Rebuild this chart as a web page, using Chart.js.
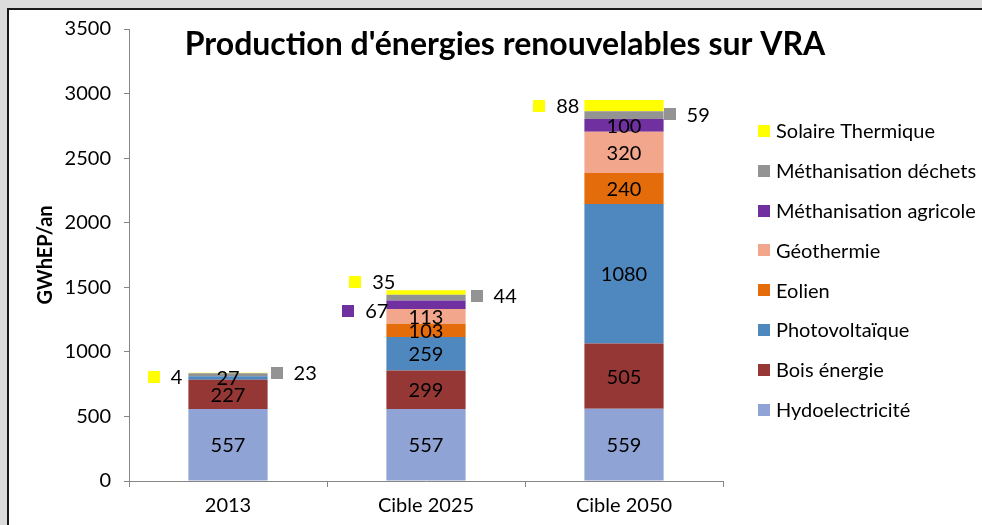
<!DOCTYPE html>
<html>
<head>
<meta charset="utf-8">
<title>Production d'énergies renouvelables sur VRA</title>
<script src="https://cdn.jsdelivr.net/npm/chart.js@4.4.1/dist/chart.umd.min.js"></script>
<style>
  html, body { margin: 0; padding: 0; width: 982px; height: 525px; overflow: hidden; background: #dcdcdc; }
  #frame { position: absolute; left: 7px; top: 8px; width: 980px; height: 520px; background: #fff;
           border-left: 2px solid #1a1a1a; border-top: 2px solid #1a1a1a; }
  #wrap { position: absolute; left: 0; top: 0; width: 982px; height: 525px; }
</style>
</head>
<body>
<div id="frame"></div>
<div id="wrap"><canvas id="c" width="982" height="525"></canvas></div>
<script>
// Categories and series (GWhEP/an)
const categories = ['2013', 'Cible 2025', 'Cible 2050'];
const hydroelectricite = [557, 557, 559];
const boisEnergie = [227, 299, 505];
const photovoltaique = [27, 259, 1080];
const eolien = [0, 103, 240];
const geothermie = [0, 113, 320];
const methanisationAgricole = [0, 67, 100];
const methanisationDechets = [23, 44, 59];
const solaireThermique = [4, 35, 88];
const yTicks = [0, 500, 1000, 1500, 2000, 2500, 3000, 3500];

const FONT = 'Lato';
const TEXT_SIZE = 20;

const series = [
  { label: 'Hydoelectricité',        data: hydroelectricite,      color: '#8FA3D5' },
  { label: 'Bois énergie',           data: boisEnergie,           color: '#953735' },
  { label: 'Photovoltaïque',         data: photovoltaique,        color: '#4F87BF' },
  { label: 'Eolien',                 data: eolien,                color: '#E46C0A' },
  { label: 'Géothermie',             data: geothermie,            color: '#F2A68B' },
  { label: 'Méthanisation agricole', data: methanisationAgricole, color: '#7030A0' },
  { label: 'Méthanisation déchets',  data: methanisationDechets,  color: '#939393' },
  { label: 'Solaire Thermique',      data: solaireThermique,      color: '#FFFF00' }
];

// Labels shown beside the bar with a colour key instead of inside the segment
// (dataset index -> per-category placement; dx from bar edge, dy from segment middle)
const besideLabels = {
  5: [null, { side: 'left', dx: 2, dy: 6 }, null],
  6: [{ side: 'right', dx: 3, dy: -2 }, { side: 'right', dx: 5, dy: -2 }, { side: 'right', dx: 0, dy: -1 }],
  7: [{ side: 'left', dx: -6, dy: 4 }, { side: 'left', dx: 9, dy: -11 }, { side: 'left', dx: -5, dy: 0 }]
};

const segmentLabels = {
  id: 'segmentLabels',
  afterDatasetsDraw(chart) {
    const ctx = chart.ctx;
    ctx.save();
    ctx.font = TEXT_SIZE + 'px ' + FONT;
    ctx.fillStyle = '#000';
    ctx.textBaseline = 'middle';
    chart.data.datasets.forEach((ds, di) => {
      const meta = chart.getDatasetMeta(di);
      meta.data.forEach((bar, j) => {
        const v = ds.data[j];
        if (!v) return;
        const text = String(v);
        const mid = (bar.y + bar.base) / 2;
        const place = besideLabels[di] && besideLabels[di][j];
        if (!place) {
          ctx.textAlign = 'center';
          ctx.fillText(text, bar.x, mid + 1);
          return;
        }
        const key = 12, gap = 11;
        const tw = ctx.measureText(text).width;
        const y = mid + place.dy;
        let x0;
        if (place.side === 'left') {
          x0 = bar.x - bar.width / 2 + place.dx - (key + gap + tw);
        } else {
          x0 = bar.x + bar.width / 2 + place.dx;
        }
        ctx.fillStyle = ds.backgroundColor;
        ctx.fillRect(Math.round(x0), Math.round(y - key / 2), key, key);
        ctx.fillStyle = '#000';
        ctx.textAlign = 'left';
        ctx.fillText(text, x0 + key + gap, y + 1);
      });
    });
    ctx.restore();
  }
};

const sideLegend = {
  id: 'sideLegend',
  afterDraw(chart) {
    const ctx = chart.ctx;
    const sets = chart.data.datasets;
    ctx.save();
    ctx.font = TEXT_SIZE + 'px ' + FONT;
    ctx.textBaseline = 'middle';
    ctx.textAlign = 'left';
    const x = chart.chartArea.right + 35;
    for (let k = 0; k < sets.length; k++) {
      const ds = sets[sets.length - 1 - k];
      const y = 131 + k * 39.8;
      ctx.fillStyle = ds.backgroundColor;
      ctx.fillRect(x, Math.round(y - 6), 12, 12);
      ctx.fillStyle = '#000';
      ctx.fillText(ds.label, x + 18, y + 1);
    }
    ctx.restore();
  }
};

const chartTitle = {
  id: 'chartTitle',
  afterDraw(chart) {
    const ctx = chart.ctx;
    ctx.save();
    ctx.font = 'bold 32px ' + FONT;
    ctx.fillStyle = '#000';
    ctx.textAlign = 'center';
    ctx.textBaseline = 'middle';
    ctx.fillText("Production d'énergies renouvelables sur VRA", 505, 45);
    ctx.restore();
  }
};

function build() {
  new Chart(document.getElementById('c'), {
    type: 'bar',
    data: {
      labels: categories,
      datasets: series.map(s => ({
        label: s.label,
        data: s.data,
        backgroundColor: s.color,
        borderWidth: 0,
        categoryPercentage: 1,
        barPercentage: 0.4
      }))
    },
    options: {
      responsive: false,
      devicePixelRatio: 1,
      animation: false,
      layout: { padding: { left: 0, right: 259, top: 29, bottom: 0 } },
      plugins: { legend: { display: false }, title: { display: false }, tooltip: { enabled: false } },
      scales: {
        x: {
          stacked: true,
          afterFit: s => { s.height = 44; },
          grid: { drawOnChartArea: false, drawTicks: true, tickLength: 6, color: '#868686', offset: true },
          border: { color: '#868686' },
          ticks: { color: '#000', font: { family: FONT, size: TEXT_SIZE }, padding: 7 }
        },
        y: {
          stacked: true,
          min: 0,
          max: 3500,
          afterFit: s => { s.width = 129; },
          afterBuildTicks: s => { s.ticks = yTicks.map(v => ({ value: v })); },
          grid: { drawOnChartArea: false, drawTicks: true, tickLength: 5, color: '#868686' },
          border: { color: '#868686' },
          ticks: {
            color: '#000',
            font: { family: FONT, size: TEXT_SIZE },
            padding: 13,
            callback: v => String(v)
          },
          title: {
            display: true,
            text: 'GWhEP/an',
            color: '#000',
            font: { family: FONT, size: 20, weight: 'bold' },
            padding: { top: 34, bottom: 0 }
          }
        }
      }
    },
    plugins: [segmentLabels, sideLegend, chartTitle]
  });
}

if (document.fonts && document.fonts.load) {
  Promise.all([
    document.fonts.load(TEXT_SIZE + 'px ' + FONT),
    document.fonts.load('bold 32px ' + FONT)
  ]).then(build, build);
} else {
  build();
}
</script>
</body>
</html>
